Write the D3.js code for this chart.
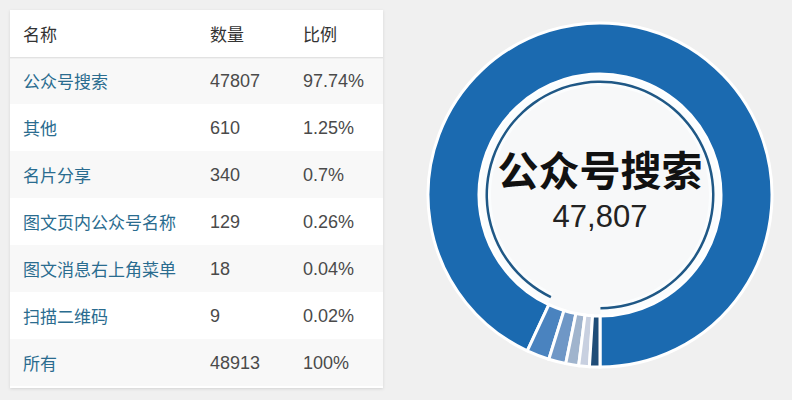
<!DOCTYPE html>
<html>
<head>
<meta charset="utf-8">
<script src="https://cdn.jsdelivr.net/npm/d3@7"></script>
<style>
  html, body { margin: 0; padding: 0; background: #f0f0f0; }
  svg { display: block; }
</style>
</head>
<body>
<div id="chart"></div>
<script>
// 数据
let names = ["公众号搜索", "其他", "名片分享", "图文页内公众号名称", "图文消息右上角菜单", "扫描二维码"]
let counts = [47807, 610, 340, 129, 18, 9]
let ratios = ["97.74%", "1.25%", "0.7%", "0.26%", "0.04%", "0.02%"]
let headers = ["名称", "数量", "比例"]
let totalName = "所有"
let totalCount = 48913
let totalRatio = "100%"
let colors = ["#1b6ab0", "#4a83bf", "#6f97c6", "#a0b4cd", "#c8d0e0", "#1f4d78"]

let rows = names.map(function (n, i) {
  return { name: n, count: counts[i], ratio: ratios[i] }
})

let svg = d3.select("#chart")
  .append("svg")
  .attr("width", 792)
  .attr("height", 400)

// 卡片阴影
let defs = svg.append("defs")
let shadow = defs.append("filter").attr("id", "shadow")
  .attr("x", "-5%").attr("y", "-5%").attr("width", "110%").attr("height", "110%")
shadow.append("feDropShadow")
  .attr("dx", 0).attr("dy", 1).attr("stdDeviation", 1.5)
  .attr("flood-color", "#000").attr("flood-opacity", 0.12)

// ---------- 表格 ----------
let card = { x: 10, y: 10, w: 373, h: 378 }
let table = svg.append("g")

table.append("rect")
  .attr("x", card.x).attr("y", card.y)
  .attr("width", card.w).attr("height", card.h)
  .attr("fill", "#fff")
  .attr("filter", "url(#shadow)")

// 行位置（表头 + 数据行 + 合计行）
let yscale = d3.scaleBand()
  .domain(d3.range(rows.length + 2))
  .range([card.y, card.y + 8 * 47])

let colX = [23, 210, 303]

let allRows = rows.concat([{ name: totalName, count: totalCount, ratio: totalRatio }])

// 斑马纹
table.selectAll("rect.stripe")
  .data(allRows)
  .enter()
  .append("rect")
  .attr("class", "stripe")
  .attr("x", card.x)
  .attr("y", function (d, i) { return yscale(i + 1) })
  .attr("width", card.w)
  .attr("height", yscale.bandwidth())
  .attr("fill", function (d, i) { return i % 2 === 0 ? "#f8f8f8" : "#fff" })

// 表头分隔线
table.append("line")
  .attr("x1", card.x).attr("x2", card.x + card.w)
  .attr("y1", yscale(1) + 0.5).attr("y2", yscale(1) + 0.5)
  .attr("stroke", "#e2e2e2")
table.append("line")
  .attr("x1", card.x).attr("x2", card.x + card.w)
  .attr("y1", yscale(1) + 1.5).attr("y2", yscale(1) + 1.5)
  .attr("stroke", "#f0f0f0")

// 表头文字
table.selectAll("text.head")
  .data(headers)
  .enter()
  .append("text")
  .attr("class", "head")
  .attr("x", function (d, i) { return colX[i] })
  .attr("y", yscale(0) + yscale.bandwidth() / 2)
  .attr("dominant-baseline", "central")
  .attr("font-family", "'Noto Sans CJK SC', sans-serif")
  .attr("font-size", "17px")
  .attr("fill", "#333")
  .text(function (d) { return d })

let rowG = table.selectAll("g.row")
  .data(allRows)
  .enter()
  .append("g")
  .attr("class", "row")
  .attr("transform", function (d, i) {
    return "translate(0," + (yscale(i + 1) + yscale.bandwidth() / 2) + ")"
  })

rowG.append("text")
  .attr("x", colX[0])
  .attr("dominant-baseline", "central")
  .attr("font-family", "'Noto Sans CJK SC', sans-serif")
  .attr("font-size", "17px")
  .attr("fill", "#2a6c8f")
  .text(function (d) { return d.name })

rowG.append("text")
  .attr("x", colX[1])
  .attr("dominant-baseline", "central")
  .attr("font-family", "'Liberation Sans', Arial, sans-serif")
  .attr("font-size", "18px")
  .attr("fill", "#4a4a4a")
  .text(function (d) { return d.count })

rowG.append("text")
  .attr("x", colX[2])
  .attr("dominant-baseline", "central")
  .attr("font-family", "'Liberation Sans', Arial, sans-serif")
  .attr("font-size", "18px")
  .attr("fill", "#4a4a4a")
  .text(function (d) { return d.ratio })

// ---------- 环形图 ----------
let cx = 600, cy = 195
let outerR = 172, innerR = 121

let ring = svg.append("g")
  .attr("transform", "translate(" + cx + "," + cy + ")")

ring.append("circle")
  .attr("r", innerR)
  .attr("fill", "#f7f8f9")

// 小扇区加一个最小量，让它们看得见
let minSlice = 500
let pie = d3.pie()
  .sort(null)
  .value(function (d) { return d.count + minSlice })
  .startAngle(Math.PI)
  .endAngle(-Math.PI)

let arcs = pie(rows)

let arc = d3.arc()
  .innerRadius(innerR)
  .outerRadius(outerR)

ring.selectAll("path.slice")
  .data(arcs)
  .enter()
  .append("path")
  .attr("class", "slice")
  .attr("d", arc)
  .attr("fill", function (d, i) { return colors[i] })
  .attr("stroke", "#fff")
  .attr("stroke-width", 3)
  .attr("stroke-linejoin", "miter")

// 选中扇区的内圈高亮线（白色衬底 + 深色细线）
let mainArc = arcs[0]
let hiSpan = { startAngle: mainArc.startAngle - 0.004, endAngle: mainArc.endAngle + 0.012 }
let haloArc = d3.arc().innerRadius(109).outerRadius(120)
let lineArc = d3.arc().innerRadius(112).outerRadius(114.5)

ring.append("path")
  .attr("d", haloArc(hiSpan))
  .attr("fill", "#fbfdfe")

ring.append("path")
  .attr("d", lineArc(hiSpan))
  .attr("fill", "#1f5886")

// 中心文字
ring.append("text")
  .attr("x", 0)
  .attr("y", -27)
  .attr("text-anchor", "middle")
  .attr("dominant-baseline", "central")
  .attr("font-family", "'Noto Sans CJK SC', sans-serif")
  .attr("font-weight", "bold")
  .attr("font-size", "41px")
  .attr("fill", "#111")
  .text(rows[0].name)

ring.append("text")
  .attr("x", 0)
  .attr("y", 32)
  .attr("text-anchor", "middle")
  .attr("font-family", "'Liberation Sans', Arial, sans-serif")
  .attr("font-size", "31px")
  .attr("fill", "#222")
  .text(d3.format(",")(rows[0].count))
</script>
</body>
</html>
